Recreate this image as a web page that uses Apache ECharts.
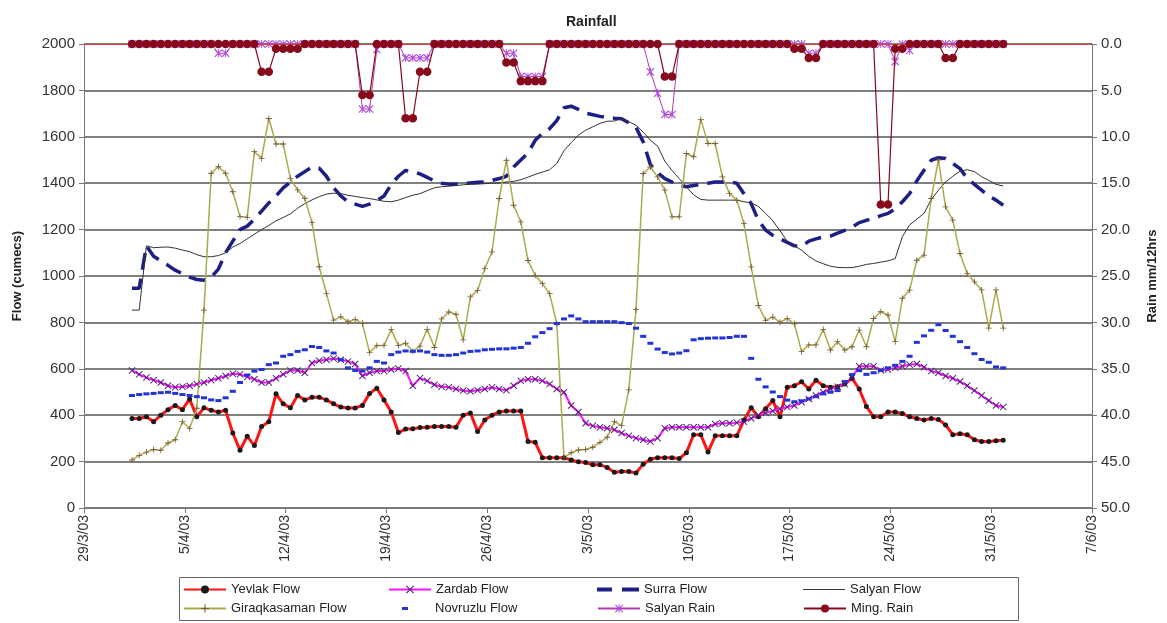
<!DOCTYPE html>
<html><head><meta charset="utf-8">
<script src="https://cdn.jsdelivr.net/npm/echarts@6/dist/echarts.min.js"></script>
<style>html,body{margin:0;padding:0;background:#fff}#c{width:1167px;height:623px}</style>
</head><body><div id="c"></div>
<script>
// ---- data ----
const xTickLabels = ['29/3/03','5/4/03','12/4/03','19/4/03','26/4/03','3/5/03','10/5/03','17/5/03','24/5/03','31/5/03','7/6/03'];
const seriesNames = ['Yevlak Flow','Zardab Flow','Surra Flow','Salyan Flow','Giraqkasaman Flow','Novruzlu Flow','Salyan Rain','Ming. Rain'];
// observations every 12 h, first one 1/4/03 08:00 (days after 29/3/03)
const startDay = 3 + 8/24;
const stepDays = 0.5;

const yevlak = [386,386,393,372,400,424,442,424,470,393,
432,421,414,421,323,249,309,269,351,372,
492,449,432,485,466,477,477,466,449,435,
431,431,442,494,516,466,414,325,340,342,
347,348,351,351,351,348,400,410,330,379,
400,414,418,418,418,287,283,217,217,217,
217,207,199,196,186,186,175,154,157,157,
151,189,210,217,217,217,213,238,316,316,
241,311,311,311,311,379,432,393,428,463,
393,520,527,544,513,551,527,520,523,534,
559,513,438,393,393,414,414,407,393,386,
379,386,382,358,316,320,316,294,287,287,290,292];

const zardab = [593,576,562,551,541,527,520,523,527,534,
541,551,559,569,579,576,565,555,541,541,
559,576,593,593,583,625,635,639,644,639,
632,621,569,583,590,590,597,601,590,527,
560,548,531,523,520,513,506,503,508,513,
520,513,508,527,548,555,555,548,534,513,
499,442,414,365,354,348,344,337,323,311,
301,294,287,301,344,348,348,348,348,348,
348,362,365,365,368,372,386,400,410,418,
428,435,442,456,470,485,499,513,523,534,
562,611,611,611,593,597,604,611,618,621,
607,590,583,569,559,545,527,506,485,463,442,435];

const surra = [947,947,1130,1085,1065,1046,1025,1010,995,985,
982,995,1030,1100,1150,1200,1215,1245,1280,1315,
1345,1380,1405,1430,1450,1470,1465,1430,1380,1345,
1320,1310,1300,1310,1325,1345,1395,1430,1455,1450,
1440,1425,1410,1400,1396,1396,1398,1401,1404,1406,
1412,1420,1430,1470,1500,1530,1585,1615,1635,1670,
1725,1732,1718,1702,1695,1688,1683,1680,1678,1660,
1640,1578,1480,1445,1420,1405,1390,1385,1390,1395,
1400,1405,1405,1406,1400,1355,1312,1240,1198,1175,
1160,1145,1130,1128,1150,1160,1168,1172,1185,1197,
1210,1230,1240,1247,1260,1270,1290,1320,1355,1410,
1456,1499,1510,1506,1485,1463,1420,1395,1370,1345,1327,1305];

const salyan = [853,853,1130,1122,1124,1125,1120,1112,1105,1092,
1083,1083,1088,1100,1125,1140,1160,1180,1200,1218,
1238,1252,1268,1292,1312,1328,1342,1353,1357,1355,
1348,1343,1338,1334,1328,1322,1320,1327,1338,1348,
1355,1368,1380,1385,1387,1390,1393,1396,1396,1398,
1400,1401,1405,1408,1415,1426,1438,1448,1458,1485,
1540,1575,1607,1628,1643,1658,1667,1668,1680,1665,
1650,1620,1585,1560,1495,1455,1420,1384,1350,1330,
1327,1327,1327,1327,1327,1320,1315,1300,1270,1238,
1195,1150,1130,1111,1085,1065,1053,1042,1037,1036,
1036,1042,1050,1054,1060,1065,1075,1170,1220,1245,
1270,1330,1370,1405,1430,1452,1458,1450,1428,1412,1395,1388];

const giraq = [207,227,241,252,249,280,294,372,343,430,
853,1443,1471,1443,1363,1256,1253,1536,1507,1679,
1569,1569,1421,1371,1335,1230,1040,925,810,824,
803,813,796,670,700,700,770,700,710,676,
698,770,692,815,845,835,725,910,938,1032,
1104,1334,1499,1305,1233,1067,1003,967,924,794,
217,238,250,252,262,283,305,372,355,509,
855,1442,1470,1427,1370,1255,1255,1528,1514,1675,
1571,1571,1427,1355,1327,1226,1039,873,809,823,
801,816,794,674,703,703,770,681,717,681,
695,767,695,817,846,832,717,904,939,1068,
1090,1334,1500,1298,1241,1097,1011,975,940,775,940,775];

const novruzlu = [485,489,492,494,497,499,494,489,485,480,
475,466,463,475,503,541,573,590,597,618,
625,654,661,675,682,696,692,677,668,639,
604,593,590,604,632,625,661,672,677,675,
677,672,661,658,658,661,668,675,677,682,
684,686,686,689,692,710,738,756,773,795,
815,828,815,803,803,803,803,803,799,795,
775,740,710,685,670,664,668,678,725,730,
732,733,733,735,740,740,645,555,522,500,
480,465,458,462,470,480,492,499,506,545,
575,592,576,583,593,604,615,632,654,714,
742,766,790,765,740,717,692,665,640,628,608,604];

const salyanRain = [0,0,0,0,0,0,0,0,0,0,
0,0,1.0,1.0,0,0,0,0,0,0,
0,0,0,0,0,0,0,0,0,0,
0,0,7.0,7.0,0.6,0,0,0,1.5,1.5,
1.5,1.5,0,0,0,0,0,0,0,0,
0,0,1.0,1.0,3.5,3.5,3.5,3.5,0,0,
0,0,0,0,0,0,0,0,0,0,
0,0,3.0,5.3,7.6,7.6,0,0,0,0,
0,0,0,0,0,0,0,0,0,0,
0,0,0,0,1.0,1.0,0,0,0,0,
0,0,0,0,0,0,1.9,0,0.7,0,
0,0,0,0,0,0,0,0,0,0,0,0];

const mingRain = [0,0,0,0,0,0,0,0,0,0,
0,0,0,0,0,0,0,0,3.0,3.0,
0.5,0.5,0.5,0.5,0,0,0,0,0,0,
0,0,5.5,5.5,0,0,0,0,8.0,8.0,
3.0,3.0,0,0,0,0,0,0,0,0,
0,0,2.0,2.0,4.0,4.0,4.0,4.0,0,0,
0,0,0,0,0,0,0,0,0,0,
0,0,0,0,3.5,3.5,0,0,0,0,
0,0,0,0,0,0,0,0,0,0,
0,0,0.5,0.5,1.5,1.5,0,0,0,0,
0,0,0,0,17.3,17.3,0.5,0.5,0,0,
0,0,0,1.5,1.5,0,0,0,0,0,0,0];

// ---- chart ----
const times = yevlak.map((_, i) => startDay + i * stepDays);
const pairs = arr => arr.map((v, i) => [times[i], v]);
const FONT = '"Liberation Sans", Arial, sans-serif';
const X_PATH = 'path://M0,1L1,0L5,4L9,0L10,1L6,5L10,9L9,10L5,6L1,10L0,9L4,5Z';
const PLUS_PATH = 'path://M4.3,0H5.7V4.3H10V5.7H5.7V10H4.3V5.7H0V4.3H4.3Z';
const STAR_PATH = 'path://M0,1L1,0L5,4L9,0L10,1L6,5L10,9L9,10L5,6L1,10L0,9L4,5Z M4.4,0H5.6V10H4.4Z';

const legendPos = [
  [183, 583], [388, 583], [597, 583], [803, 583],
  [183, 602], [388, 602], [597, 602], [803, 602]
];
// custom legend glyphs for series drawn without line markers
const legendIcons = {
  'Surra Flow': { icon: 'path://M0,0H15V4H0Z M25,0H42V4H25Z', h: 4 },
  'Salyan Flow': { icon: 'path://M0,0H42V1.2H0Z', h: 1.2 },
  'Novruzlu Flow': { icon: 'path://M0,0L0.01,0L0,0.01Z M14,0H20V3H14Z M41.99,2.99L42,3L41.99,3Z', h: 3 }
};
const legends = seriesNames.map((n, k) => {
  const ic = legendIcons[n];
  return {
    data: [ic ? { name: n, icon: ic.icon } : n],
    left: legendPos[k][0], top: legendPos[k][1],
    itemWidth: 42, itemHeight: ic ? ic.h : 10, padding: 0,
    textStyle: { fontFamily: FONT, fontSize: 13, color: '#222' },
    selectedMode: false
  };
});

const chart = echarts.init(document.getElementById('c'), null, { renderer: 'canvas' });
chart.setOption({
  animation: false,
  backgroundColor: '#fff',
  title: { text: 'Rainfall', left: 561, top: 10, textStyle: { fontFamily: FONT, fontSize: 14, fontWeight: 'bold', color: '#222' } },
  legend: legends,
  graphic: [{ type: 'rect', shape: { x: 179.5, y: 577.5, width: 839, height: 43 }, style: { fill: 'none', stroke: '#666', lineWidth: 1 }, z: 100 }],
  grid: { left: 84, right: 75, top: 44, bottom: 115, outerBoundsMode: 'none' },
  xAxis: {
    type: 'value', min: 0, max: 70, interval: 7,
    axisLine: { lineStyle: { color: '#777', width: 1 } },
    axisTick: { show: true, length: 5, lineStyle: { color: '#777' } },
    splitLine: { show: false },
    axisLabel: { rotate: 90, margin: 7, fontFamily: FONT, fontSize: 14, color: '#333',
      formatter: v => xTickLabels[Math.round(v / 7)] || '' }
  },
  yAxis: [{
    type: 'value', min: 0, max: 2000, interval: 200,
    name: 'Flow (cumecs)', nameLocation: 'middle', nameRotate: 90, nameGap: 60,
    nameTextStyle: { fontFamily: FONT, fontSize: 13, fontWeight: 'bold', color: '#222' },
    axisLine: { show: true, lineStyle: { color: '#777' } },
    axisTick: { show: true, length: 5, lineStyle: { color: '#777' } },
    splitLine: { show: true, lineStyle: { color: '#555', width: 1.5 } },
    axisLabel: { margin: 9, fontFamily: FONT, fontSize: 15, color: '#333', formatter: v => String(v) }
  }, {
    type: 'value', min: 0, max: 50, interval: 5, inverse: true, position: 'right',
    name: 'Rain mm/12hrs', nameLocation: 'middle', nameRotate: 90, nameGap: 54,
    nameTextStyle: { fontFamily: FONT, fontSize: 13, fontWeight: 'bold', color: '#222' },
    axisLine: { show: true, lineStyle: { color: '#777' } },
    axisTick: { show: true, length: 5, lineStyle: { color: '#777' } },
    splitLine: { show: false },
    axisLabel: { margin: 9, fontFamily: FONT, fontSize: 15, color: '#333', formatter: v => v.toFixed(1) }
  }],
  series: [
    { name: seriesNames[0], type: 'line', data: pairs(yevlak), showAllSymbol: true,
      symbol: 'circle', symbolSize: 5, itemStyle: { color: '#1a1a1a' },
      lineStyle: { color: '#ff1414', width: 3 }, z: 3 },
    { name: seriesNames[1], type: 'line', data: pairs(zardab), showAllSymbol: true,
      symbol: X_PATH, symbolSize: 7, itemStyle: { color: '#4a2378' },
      lineStyle: { color: '#ff10ff', width: 2 }, z: 3 },
    { name: seriesNames[2], type: 'line', data: pairs(surra), showSymbol: false, symbol: 'none',
      itemStyle: { color: '#1c1f86' },
      lineStyle: { color: '#1c1f86', width: 3.5, type: [17, 9] }, z: 3 },
    { name: seriesNames[3], type: 'line', data: pairs(salyan), showSymbol: false, symbol: 'none',
      itemStyle: { color: '#333' },
      lineStyle: { color: '#333', width: 1 }, z: 3 },
    { name: seriesNames[4], type: 'line', data: pairs(giraq), showAllSymbol: true,
      symbol: PLUS_PATH, symbolSize: 6, itemStyle: { color: '#7a5a32' },
      lineStyle: { color: '#abab4e', width: 1.5 }, z: 3 },
    { name: seriesNames[5], type: 'line', data: pairs(novruzlu), showAllSymbol: true,
      symbol: 'rect', symbolSize: [6, 3], itemStyle: { color: '#2233d8' },
      lineStyle: { width: 0, opacity: 0 }, z: 3 },
    { name: seriesNames[6], type: 'line', yAxisIndex: 1, data: pairs(salyanRain), showAllSymbol: true, clip: false,
      symbol: STAR_PATH, symbolSize: 8, itemStyle: { color: '#b04ae0' },
      lineStyle: { color: '#b03cb0', width: 1 }, z: 4 },
    { name: seriesNames[7], type: 'line', yAxisIndex: 1, data: pairs(mingRain), showAllSymbol: true, clip: false,
      symbol: 'circle', symbolSize: 8.5, itemStyle: { color: '#860a1c' },
      lineStyle: { color: '#860a1c', width: 1.2 }, z: 5,
      markLine: { silent: true, symbol: ['none', 'none'], label: { show: false },
        lineStyle: { color: '#e83a3a', width: 1, type: 'solid' }, data: [{ yAxis: 0 }] } }
  ]
});
</script>
</body></html>
